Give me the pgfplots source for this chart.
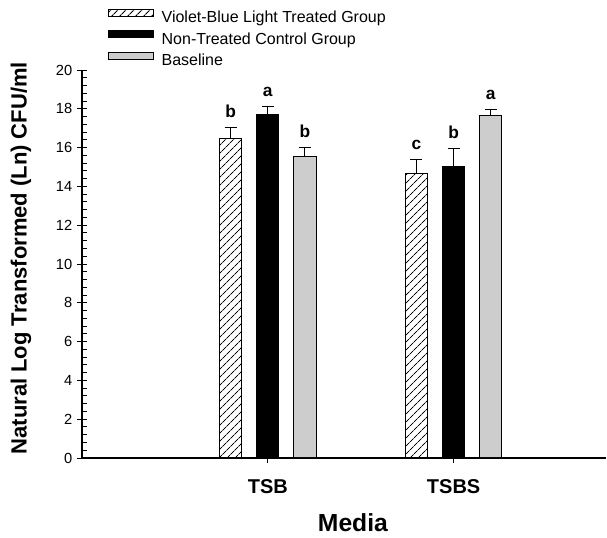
\documentclass[border=0pt]{standalone}
\usepackage{fontspec}
\setmainfont{Liberation Sans}
\usepackage{pgfplots}
\usepackage{pgfplotstable}
\pgfplotsset{compat=1.18}
\usetikzlibrary{patterns.meta}

% group centres: 1 = TSB, 2 = TSBS; bars sit at -0.2, 0, +0.2 from them
\pgfplotstableread{
x y err lbl
0.8 16.49 0.57 b
1.8 14.64 0.77 c
}\violet
\pgfplotstableread{
x y err lbl
1.0 17.73 0.41 a
2.0 15.05 0.88 b
}\control
\pgfplotstableread{
x y err lbl
1.2 15.52 0.51 b
2.2 17.63 0.31 a
}\baseline

\pgfplotsset{
  patchleg/.style={legend image code/.code={\draw[##1] (0pt,1.7pt) rectangle (34pt,7pt);}},
  mybar/.style={ybar, bar width=0.119, bar shift=0, draw=black, line width=0.75pt,
    error bars/.cd, y dir=plus, y explicit,
    error bar style={line width=0.75pt, black},
    error mark options={rotate=90, mark size=4.5pt, line width=0.75pt, black},
    /pgfplots/.cd,
    nodes near coords, point meta=explicit symbolic,
    visualization depends on={\thisrow{err} \as \myerr},
    nodes near coords style={anchor=base, text=black, yshift=\myerr*14.55pt+7.5pt,
      font=\fontsize{13}{15}\selectfont\bfseries},
    patchleg},
}

\begin{document}
\begin{tikzpicture}
\begin{axis}[
  scale only axis, width=393pt, height=291pt,
  xmin=0, xmax=2.82, ymin=0, ymax=20,
  axis x line=bottom, axis y line=left,
  axis line style={-, line width=0.8pt},
  xtick={1,2}, xticklabels={TSB,TSBS},
  ytick={0,2,...,20}, minor y tick num=4,
  tick align=center, major tick length=7.5pt, minor tick length=4pt,
  tick style={black, line width=0.75pt},
  minor y tick style={xshift=2pt},
  /pgf/number format/assume math mode=true,
  yticklabel style={font=\fontsize{11}{13}\selectfont},
  xticklabel style={font=\fontsize{15}{17}\selectfont\bfseries, yshift=-9pt},
  ylabel={Natural Log Transformed (Ln) CFU/ml},
  ylabel style={at={(axis description cs:-0.1164,0.515)}, anchor=center,
    font=\fontsize{16.5}{19}\selectfont\bfseries},
  xlabel={Media},
  xlabel style={at={(axis description cs:0.517,-0.166)}, anchor=center,
    font=\fontsize{18.5}{21}\selectfont\bfseries},
  legend style={at={(axis description cs:0.0496,1.158)}, anchor=north west,
    draw=none, fill=none, inner sep=0pt, outer sep=0pt,
    column sep=5.5pt, row sep=3pt,
    nodes={inner sep=0pt, text height=9pt, text depth=2.6pt},
    font=\fontsize{12}{14}\selectfont},
  legend cell align=left,
  clip=false,
]
\addplot[mybar,
  pattern={Lines[angle=45,distance=4pt,line width=0.75pt]}, pattern color=black]
  table[x=x, y=y, y error=err, meta=lbl] {\violet};
\addlegendentry{Violet-Blue Light Treated Group}
\addplot[mybar, fill=black]
  table[x=x, y=y, y error=err, meta=lbl] {\control};
\addlegendentry{Non-Treated Control Group}
\addplot[mybar,
  pattern={Dots[distance=1.5pt,radius=0.45pt]}, pattern color=black!85]
  table[x=x, y=y, y error=err, meta=lbl] {\baseline};
\addlegendentry{Baseline}
\end{axis}
\pgfresetboundingbox
\useasboundingbox (-61.5pt,-59.25pt) rectangle (393.75pt,343.5pt);
\end{tikzpicture}
\end{document}
